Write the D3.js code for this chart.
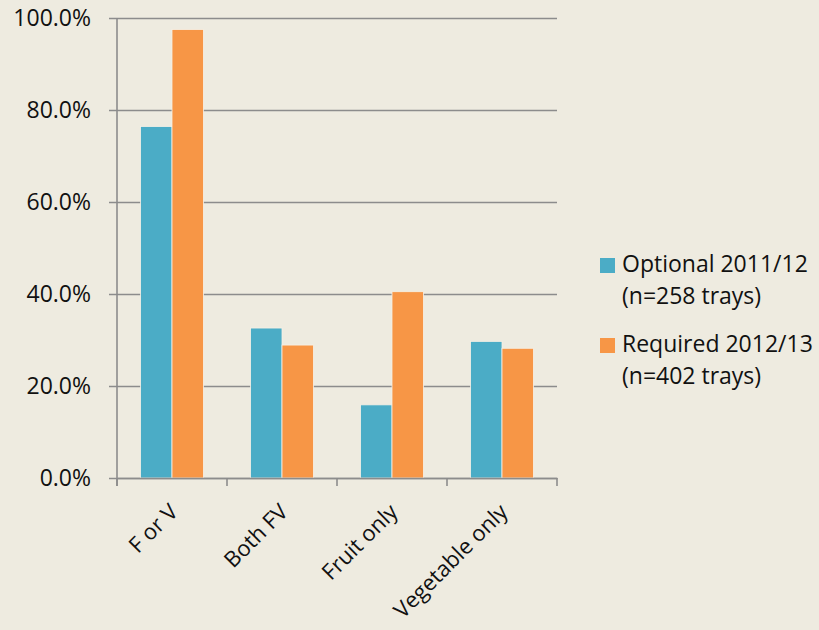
<!DOCTYPE html>
<html>
<head>
<meta charset="utf-8">
<script src="https://cdn.jsdelivr.net/npm/d3@7"></script>
<style>
  html, body { margin: 0; padding: 0; background: #EEEBE0; }
  svg { display: block; }
  text { font-family: "Open Sans", Lato, "Liberation Sans", sans-serif; fill: #111; }
</style>
</head>
<body>
<svg id="chart" width="819" height="630"></svg>
<script>
// Share of trays containing fruit and/or vegetables, by policy year
const categories = ["F or V", "Both FV", "Fruit only", "Vegetable only"];
const optional = [76.4, 32.6, 15.9, 29.7];   // Optional 2011/12 (n=258 trays)
const required = [97.5, 28.9, 40.5, 28.2];   // Required 2012/13 (n=402 trays)
const yTicks = [0, 20, 40, 60, 80, 100];
const seriesNames = [["Optional 2011/12", "(n=258 trays)"], ["Required 2012/13", "(n=402 trays)"]];
const colors = ["#4BACC6", "#F79646"];

const svg = d3.select("#chart");
const m = { left: 117, right: 557, top: 18, bottom: 478 };
const FS = 23;

const x = d3.scaleBand().domain(categories).range([m.left, m.right]).paddingInner(0).paddingOuter(0);
const inner = d3.scaleBand().domain([0, 1]).range([0, x.bandwidth()]).paddingInner(0).paddingOuter(0.75);
const y = d3.scaleLinear().domain([0, 100]).range([m.bottom, m.top]);

// Horizontal gridlines with tick stubs to the left
const yAxis = d3.axisLeft(y).tickValues(yTicks).tickSize(-(m.right - m.left)).tickFormat(d => d.toFixed(1) + "%").tickPadding(26);
const gy = svg.append("g").attr("transform", `translate(${m.left},0)`).call(yAxis);
gy.select(".domain").remove();
gy.selectAll(".tick line").attr("x1", -8).attr("stroke", "#8C8C8C").attr("stroke-width", 1.6);
gy.selectAll(".tick text").attr("font-size", FS).attr("font-family", null).style("fill", "#111");

// Vertical axis line
svg.append("line").attr("x1", m.left).attr("x2", m.left).attr("y1", m.top).attr("y2", m.bottom + 8)
  .attr("stroke", "#8C8C8C").attr("stroke-width", 1.6);

// Bars
const series = [optional, required];
series.forEach((vals, si) => {
  svg.append("g").selectAll("rect").data(categories).join("rect")
    .attr("x", c => x(c) + inner(si))
    .attr("width", inner.bandwidth())
    .attr("y", (c, i) => y(vals[i]))
    .attr("height", (c, i) => y(0) - y(vals[i]))
    .attr("fill", colors[si])
    .attr("stroke", "#F6F1E6").attr("stroke-width", 0.8);
});

// Category axis
const xAxis = d3.axisBottom(x).tickSize(0).tickFormat("");
const gx = svg.append("g").attr("transform", `translate(0,${m.bottom})`).call(xAxis);
gx.select(".domain").attr("stroke", "#8C8C8C").attr("stroke-width", 1.6);
const tickPos = categories.map(c => x(c)).concat([m.right]);
svg.append("g").selectAll("line").data(tickPos).join("line")
  .attr("x1", d => d).attr("x2", d => d).attr("y1", m.bottom).attr("y2", m.bottom + 8)
  .attr("stroke", "#8C8C8C").attr("stroke-width", 1.6);

svg.append("g").selectAll("text").data(categories).join("text")
  .attr("transform", c => `translate(${x(c) + x.bandwidth() / 2 + 3},${m.bottom + 31}) rotate(-45)`)
  .attr("text-anchor", "end")
  .attr("dominant-baseline", "middle")
  .attr("font-size", 22)
  .text(c => c);

// Legend
const lg = svg.append("g");
seriesNames.forEach((lines, i) => {
  const top = 258 + i * 80;
  lg.append("rect").attr("x", 600).attr("y", top).attr("width", 15).attr("height", 15).attr("fill", colors[i]);
  lines.forEach((t, j) => {
    lg.append("text").attr("x", 622).attr("y", top + 14 + j * 32).attr("font-size", FS).text(t);
  });
});
</script>
</body>
</html>
